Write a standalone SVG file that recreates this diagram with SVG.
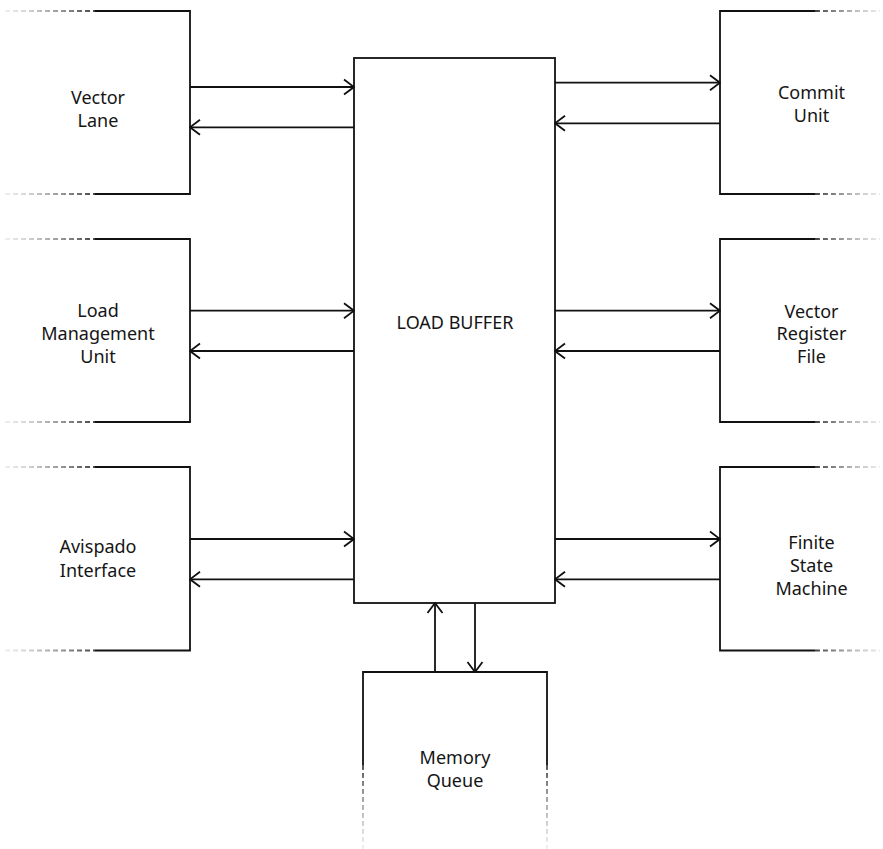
<svg xmlns="http://www.w3.org/2000/svg" width="883" height="849" viewBox="0 0 883 849">
<defs>
<style>
.box{fill:none;stroke:#111;stroke-width:1.8}
.dl{fill:none;stroke:url(#gl);stroke-width:1.8;stroke-dasharray:5 3}
.dr{fill:none;stroke:url(#gr);stroke-width:1.8;stroke-dasharray:5 3}
.dv{fill:none;stroke:url(#gv);stroke-width:1.8;stroke-dasharray:5 3}
.lb{fill:#fff;stroke:#111;stroke-width:1.8}
.c{fill:none;stroke:#111;stroke-width:1.8;marker-end:url(#ah)}
text{font-family:"Noto Sans","Liberation Sans",sans-serif;font-size:18px;fill:#151515;text-anchor:middle}
</style>
<linearGradient id="gl" gradientUnits="userSpaceOnUse" x1="5" y1="0" x2="95" y2="0">
<stop offset="0" stop-color="#999" stop-opacity="0.15"/>
<stop offset="1" stop-color="#444" stop-opacity="1"/>
</linearGradient>
<linearGradient id="gr" gradientUnits="userSpaceOnUse" x1="815" y1="0" x2="880" y2="0">
<stop offset="0" stop-color="#444" stop-opacity="1"/>
<stop offset="1" stop-color="#999" stop-opacity="0.2"/>
</linearGradient>
<linearGradient id="gv" gradientUnits="userSpaceOnUse" x1="0" y1="765" x2="0" y2="849">
<stop offset="0" stop-color="#444" stop-opacity="1"/>
<stop offset="1" stop-color="#999" stop-opacity="0.15"/>
</linearGradient>
<marker id="ah" viewBox="0 0 12 18" refX="11" refY="9" markerWidth="12" markerHeight="18" markerUnits="userSpaceOnUse" orient="auto">
<path d="M1,1.5 L11,9 L1,16.5" fill="none" stroke="#111" stroke-width="1.8"/>
</marker>
</defs>
<rect width="883" height="849" fill="#fff"/>

<g id="load-buffer">
<rect class="lb" x="354" y="58" width="201" height="545"/>
<text x="455" y="329">LOAD BUFFER</text>
</g>

<g id="vector-lane">
<path class="box" d="M95,11 H190 V194 H95"/>
<path class="dl" d="M5,11 H95 M5,194 H95"/>
<text x="98" y="104">Vector</text>
<text x="98" y="126.5">Lane</text>
</g>

<g id="load-management-unit">
<path class="box" d="M95,239 H190 V422 H95"/>
<path class="dl" d="M5,239 H95 M5,422 H95"/>
<text x="98" y="317.3">Load</text>
<text x="98" y="340">Management</text>
<text x="98" y="362.7">Unit</text>
</g>

<g id="avispado-interface">
<path class="box" d="M95,467 H190 V650.5 H95"/>
<path class="dl" d="M5,467 H95 M5,650.5 H95"/>
<text x="98" y="553.3">Avispado</text>
<text x="98" y="576.7">Interface</text>
</g>

<g id="commit-unit">
<path class="box" d="M815,11 H720 V194 H815"/>
<path class="dr" d="M815,11 H880 M815,194 H880"/>
<text x="811.5" y="99.3">Commit</text>
<text x="811.5" y="121.7">Unit</text>
</g>

<g id="vector-register-file">
<path class="box" d="M815,239 H720 V422 H815"/>
<path class="dr" d="M815,239 H880 M815,422 H880"/>
<text x="811.5" y="317.7">Vector</text>
<text x="811.5" y="340">Register</text>
<text x="811.5" y="362.7">File</text>
</g>

<g id="finite-state-machine">
<path class="box" d="M815,467 H720 V650.5 H815"/>
<path class="dr" d="M815,467 H880 M815,650.5 H880"/>
<text x="811.5" y="549.3">Finite</text>
<text x="811.5" y="571.7">State</text>
<text x="811.5" y="595">Machine</text>
</g>

<g id="memory-queue">
<path class="box" d="M363,765 V672 H547 V765"/>
<path class="dv" d="M363,765 V849 M547,765 V849"/>
<text x="455" y="763.5">Memory</text>
<text x="455" y="787">Queue</text>
</g>

<g id="connectors">
<path class="c" d="M190,87 H354"/>
<path class="c" d="M354,127.3 H190"/>
<path class="c" d="M190,310.7 H354"/>
<path class="c" d="M354,351 H190"/>
<path class="c" d="M190,539 H354"/>
<path class="c" d="M354,579.3 H190"/>
<path class="c" d="M555,82.7 H720"/>
<path class="c" d="M720,123.3 H555"/>
<path class="c" d="M555,310.7 H720"/>
<path class="c" d="M720,351 H555"/>
<path class="c" d="M555,539 H720"/>
<path class="c" d="M720,579.3 H555"/>
<path class="c" d="M435,672 V603"/>
<path class="c" d="M475,603 V672"/>
</g>
</svg>
